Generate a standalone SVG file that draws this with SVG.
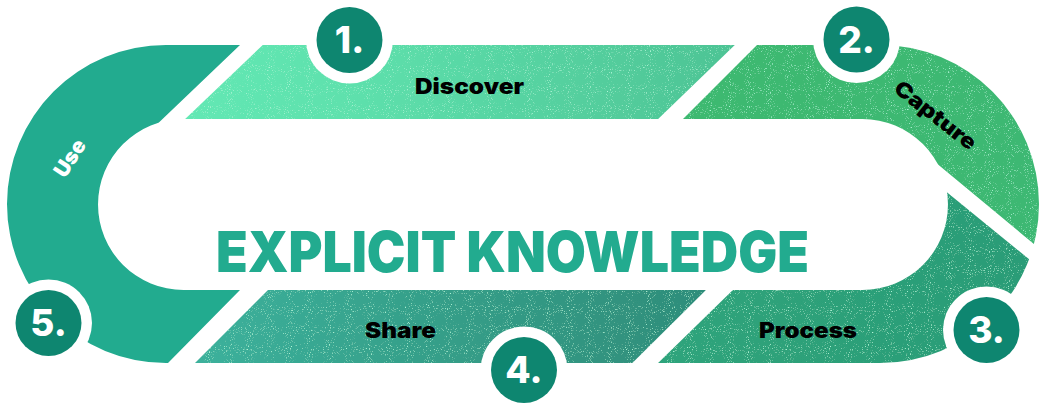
<svg xmlns="http://www.w3.org/2000/svg" width="1046" height="407" viewBox="0 0 1046 407">
  <style>
    .lbl { font-family: Inter, "Open Sans", "Liberation Sans", sans-serif; font-weight: 900; font-size: 21px; fill: #000000; }
    .num { font-family: Inter, "Open Sans", "Liberation Sans", sans-serif; font-weight: 800; font-size: 37px; fill: #ffffff; text-anchor: middle; }
    .badge-ring { fill: #ffffff; }
    .badge { fill: #0E8670; }
    .title { font-family: Inter, "Open Sans", "Liberation Sans", sans-serif; font-weight: 900; font-size: 56px; fill: #22AB8F; }
  </style>
  <defs>
    <path id="ring" fill-rule="evenodd" d="M166,45 H880 A159,159 0 0 1 880,363 H166 A159,159 0 0 1 166,45 Z M183.5,119 H862.5 A85.5,85.5 0 0 1 862.5,290 H183.5 A85.5,85.5 0 0 1 183.5,119 Z"/>
    <clipPath id="cUse"><polygon points="0,0 240,0 240,45 150,131 200,200 240,290 168,363 125,407 0,407"/></clipPath>
    <clipPath id="cDiscover"><polygon points="268,40 740,40 655,122 182,122"/></clipPath>
    <clipPath id="cCapture"><polygon points="762,40 1046,40 1046,254 900,133 680,122"/></clipPath>
    <clipPath id="cProcess"><polygon points="738,285 900,154 1046,273 1046,407 613,407"/></clipPath>
    <clipPath id="cShare"><polygon points="273,285 711,285 588,407 151,407"/></clipPath>
    <filter id="grain" filterUnits="userSpaceOnUse" x="0" y="0" width="1046" height="407">
      <feTurbulence type="fractalNoise" baseFrequency="0.95" numOctaves="1" seed="7" result="n"/>
      <feColorMatrix in="n" type="matrix" values="0 0 0 0 0.42  0 0 0 0 0.92  0 0 0 0 0.68  5 0 0 0 -3.05" result="spk"/>
      <feComposite in="spk" in2="SourceGraphic" operator="in" result="s2"/>
      <feMerge><feMergeNode in="SourceGraphic"/><feMergeNode in="s2"/></feMerge>
    </filter>
    <linearGradient id="gDiscover" gradientUnits="userSpaceOnUse" x1="185" y1="0" x2="740" y2="0">
      <stop offset="0" stop-color="#63E8B4"/>
      <stop offset="0.28" stop-color="#5EE1AD"/>
      <stop offset="1" stop-color="#4DC394"/>
    </linearGradient>
    <linearGradient id="gCapture" gradientUnits="userSpaceOnUse" x1="680" y1="0" x2="1040" y2="0">
      <stop offset="0" stop-color="#3DB970"/>
      <stop offset="1" stop-color="#3CB873"/>
    </linearGradient>
    <linearGradient id="gProcess" gradientUnits="userSpaceOnUse" x1="658" y1="0" x2="1030" y2="0">
      <stop offset="0" stop-color="#2EA47B"/>
      <stop offset="1" stop-color="#2B9C77"/>
    </linearGradient>
    <linearGradient id="gShare" gradientUnits="userSpaceOnUse" x1="195" y1="0" x2="706" y2="0">
      <stop offset="0" stop-color="#3CB19C"/>
      <stop offset="0.4" stop-color="#36A18B"/>
      <stop offset="1" stop-color="#2E8D7A"/>
    </linearGradient>
  </defs>
  <rect width="1046" height="407" fill="#ffffff"/>

  <g id="node-use">
    <use href="#ring" clip-path="url(#cUse)" fill="#22AB8F"/>
    <text class="lbl" x="0" y="0" style="fill:#ffffff" transform="translate(76,162) rotate(-57)" text-anchor="middle">Use</text>
  </g>

  <g id="node-discover">
    <g clip-path="url(#cDiscover)"><use href="#ring" fill="url(#gDiscover)" filter="url(#grain)"/></g>
    <text class="lbl" x="415" y="94" textLength="109" lengthAdjust="spacingAndGlyphs">Discover</text>
  </g>

  <g id="node-capture">
    <g clip-path="url(#cCapture)"><use href="#ring" fill="url(#gCapture)" filter="url(#grain)"/></g>
    <text class="lbl" x="0" y="0" text-anchor="middle" transform="translate(931,121) rotate(38)" textLength="98" lengthAdjust="spacingAndGlyphs">Capture</text>
  </g>

  <g id="node-process">
    <g clip-path="url(#cProcess)"><use href="#ring" fill="url(#gProcess)" filter="url(#grain)"/></g>
    <text class="lbl" x="759" y="338" textLength="98" lengthAdjust="spacingAndGlyphs">Process</text>
  </g>

  <g id="node-share">
    <g clip-path="url(#cShare)"><use href="#ring" fill="url(#gShare)" filter="url(#grain)"/></g>
    <text class="lbl" x="365" y="338" textLength="71" lengthAdjust="spacingAndGlyphs">Share</text>
  </g>

  <g id="badge-1">
    <circle class="badge-ring" cx="349.5" cy="40" r="43.5"/>
    <circle class="badge" cx="349.5" cy="40" r="33"/>
    <text class="num" x="349.5" y="53">1.</text>
  </g>
  <g id="badge-2">
    <circle class="badge-ring" cx="856.5" cy="39.5" r="43.5"/>
    <circle class="badge" cx="856.5" cy="39.5" r="33"/>
    <text class="num" x="856.5" y="52.5">2.</text>
  </g>
  <g id="badge-3">
    <circle class="badge-ring" cx="986.5" cy="330" r="43.5"/>
    <circle class="badge" cx="986.5" cy="330" r="33"/>
    <text class="num" x="986.5" y="343">3.</text>
  </g>
  <g id="badge-4">
    <circle class="badge-ring" cx="524" cy="370" r="43.5"/>
    <circle class="badge" cx="524" cy="370" r="33"/>
    <text class="num" x="524" y="383">4.</text>
  </g>
  <g id="badge-5">
    <circle class="badge-ring" cx="48.5" cy="323" r="43.5"/>
    <circle class="badge" cx="48.5" cy="323" r="33"/>
    <text class="num" x="48.5" y="336">5.</text>
  </g>

  <g id="title">
    <text class="title" x="216" y="272" textLength="593" lengthAdjust="spacingAndGlyphs">EXPLICIT KNOWLEDGE</text>
  </g>
</svg>
